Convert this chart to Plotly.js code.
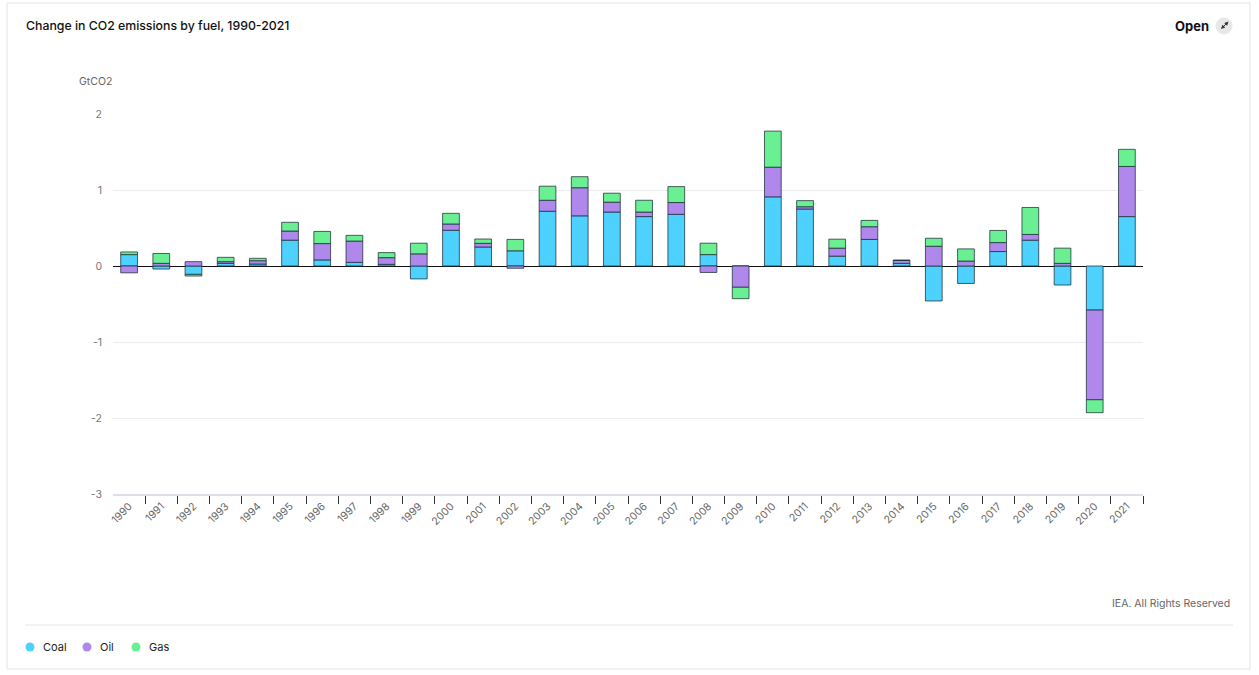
<!DOCTYPE html>
<html>
<head>
<meta charset="utf-8">
<script src="https://cdn.plot.ly/plotly-3.0.1.min.js"></script>
<style>
html,body{margin:0;padding:0;background:#fff;}
#chart{width:1259px;height:675px;}
</style>
</head>
<body>
<div id="chart"></div>
<script>
// ---- data ----
var years = ["1990","1991","1992","1993","1994","1995","1996","1997","1998","1999","2000","2001","2002","2003","2004","2005","2006","2007","2008","2009","2010","2011","2012","2013","2014","2015","2016","2017","2018","2019","2020","2021"];
var coal = [0.15,-0.04,-0.11,0.035,0.026,0.34,0.08,0.048,0.022,-0.17,0.47,0.25,0.2,0.72,0.66,0.71,0.65,0.68,0.15,0,0.91,0.75,0.13,0.35,0.035,-0.46,-0.23,0.19,0.34,-0.25,-0.58,0.65];
var oil = [-0.09,0.035,0.057,0.022,0.044,0.12,0.215,0.28,0.088,0.16,0.083,0.048,-0.03,0.145,0.37,0.13,0.06,0.155,-0.085,-0.28,0.39,0.03,0.105,0.167,0.04,0.26,0.065,0.118,0.075,0.035,-1.18,0.66];
var gas = [0.035,0.13,-0.022,0.057,0.031,0.115,0.16,0.075,0.066,0.14,0.14,0.057,0.15,0.185,0.145,0.118,0.155,0.21,0.15,-0.15,0.475,0.08,0.118,0.083,0,0.105,0.16,0.16,0.355,0.2,-0.17,0.225];
var seriesNames = ["Coal","Oil","Gas"];
var seriesColors = ["#4dd2ff","#b088ec","#6af092"];
var yTickVals = [-3,-2,-1,0,1,2];
var yTickText = ["-3","-2","-1","0","1","2"];
var titleText = "Change in CO2 emissions by fuel, 1990-2021";
var unitText = "GtCO2";
var creditText = "IEA. All Rights Reserved";

// ---- geometry helpers (pixel -> paper) ----
var W = 1259, H = 675;
var L = 113, R = 1143, T = 114, B = 494;
function px(x){ return (x - L) / (R - L); }
function py(y){ return (B - y) / (B - T); }

var FONT = "Inter, 'Noto Sans', sans-serif";
var vals = [coal, oil, gas];
var traces = vals.map(function(v, i){
  return {
    type: "bar", x: years, y: v, name: seriesNames[i],
    marker: {color: seriesColors[i], line: {color: "rgba(25,45,55,0.75)", width: 1}},
    showlegend: false, hoverinfo: "x+y+name"
  };
});

var shapes = [
  // card border
  {type:"rect", xref:"paper", yref:"paper", x0:px(7), x1:px(1250), y0:py(669), y1:py(3), line:{color:"#e3e3e3", width:1}, fillcolor:"rgba(0,0,0,0)", layer:"below"},
  // separator above legend
  {type:"line", xref:"paper", yref:"paper", x0:px(25), x1:px(1233), y0:py(625), y1:py(625), line:{color:"#e6e6e6", width:1}},
  // hide the leftmost boundary tick (reference has none there)
  {type:"rect", xref:"paper", yref:"paper", x0:px(110), x1:px(116), y0:py(504), y1:py(496), fillcolor:"#fff", line:{width:0}},
  // open button circle
  {type:"circle", xref:"paper", yref:"paper", x0:px(1215.5), x1:px(1232.5), y0:py(34.5), y1:py(17.5), fillcolor:"#e8e8e8", line:{width:0}}
];
var legendX = [30, 87, 136];
var annotations = [
  {xref:"paper", yref:"paper", x:px(114), y:py(82), xanchor:"right", yanchor:"middle", text:unitText, showarrow:false, font:{family:FONT, size:10.5, color:"#666"}},
  {xref:"paper", yref:"paper", x:px(1232), y:py(603), xanchor:"right", yanchor:"middle", text:creditText, showarrow:false, font:{family:FONT, size:10.5, color:"#666"}},
  {xref:"paper", yref:"paper", x:px(1211), y:py(26), xanchor:"right", yanchor:"middle", text:"<b>Open</b>", showarrow:false, font:{family:FONT, size:13, color:"#111"}},
  {xref:"paper", yref:"paper", x:px(1228.5), y:py(21.5), ax:-9, ay:9, text:"", showarrow:true, arrowside:"end+start", arrowhead:2, startarrowhead:2, arrowsize:0.8, startarrowsize:0.8, arrowwidth:1, arrowcolor:"#333"}
];
seriesNames.forEach(function(n, i){
  var cx = legendX[i];
  shapes.push({type:"circle", xref:"paper", yref:"paper", x0:px(cx-4.5), x1:px(cx+4.5), y0:py(651.5), y1:py(642.5), fillcolor:seriesColors[i], line:{width:0}});
  annotations.push({xref:"paper", yref:"paper", x:px(cx+11), y:py(647), xanchor:"left", yanchor:"middle", text:n, showarrow:false, font:{family:FONT, size:11, color:"#222"}});
});

var layout = {
  width: W, height: H,
  margin: {l: L, r: W - R, t: T, b: H - B, pad: 0},
  paper_bgcolor: "#fff", plot_bgcolor: "#fff",
  font: {family: FONT, size: 11, color: "#555"},
  title: {text: titleText, xref:"container", yref:"container", x: 26/W, xanchor:"left", y: 1 - 26/H, yanchor:"middle", font:{family:FONT, size:12.3, color:"#111", weight:500}},
  barmode: "relative", bargap: 0.48,
  showlegend: false,
  xaxis: {type:"category", range:[-0.5, years.length - 0.5], tickson:"boundaries", ticks:"outside", ticklen:8, tickwidth:1, tickcolor:"#333",
          showline:true, linecolor:"#dde0ec", linewidth:2, showgrid:false, zeroline:false, tickangle:-45,
          tickfont:{family:FONT, size:10.5, color:"#666"}, fixedrange:true},
  yaxis: {range:[-3, 2], tickvals:yTickVals, ticktext:yTickText, showgrid:true, gridcolor:"#ececec", gridwidth:1,
          zeroline:true, zerolinecolor:"#111", zerolinewidth:1, showline:false, ticks:"", ticklabelstandoff:10,
          tickfont:{family:FONT, size:10.5, color:"#777"}, fixedrange:true},
  shapes: shapes,
  annotations: annotations
};
Plotly.newPlot("chart", traces, layout, {displayModeBar:false, responsive:false});
</script>
</body>
</html>
